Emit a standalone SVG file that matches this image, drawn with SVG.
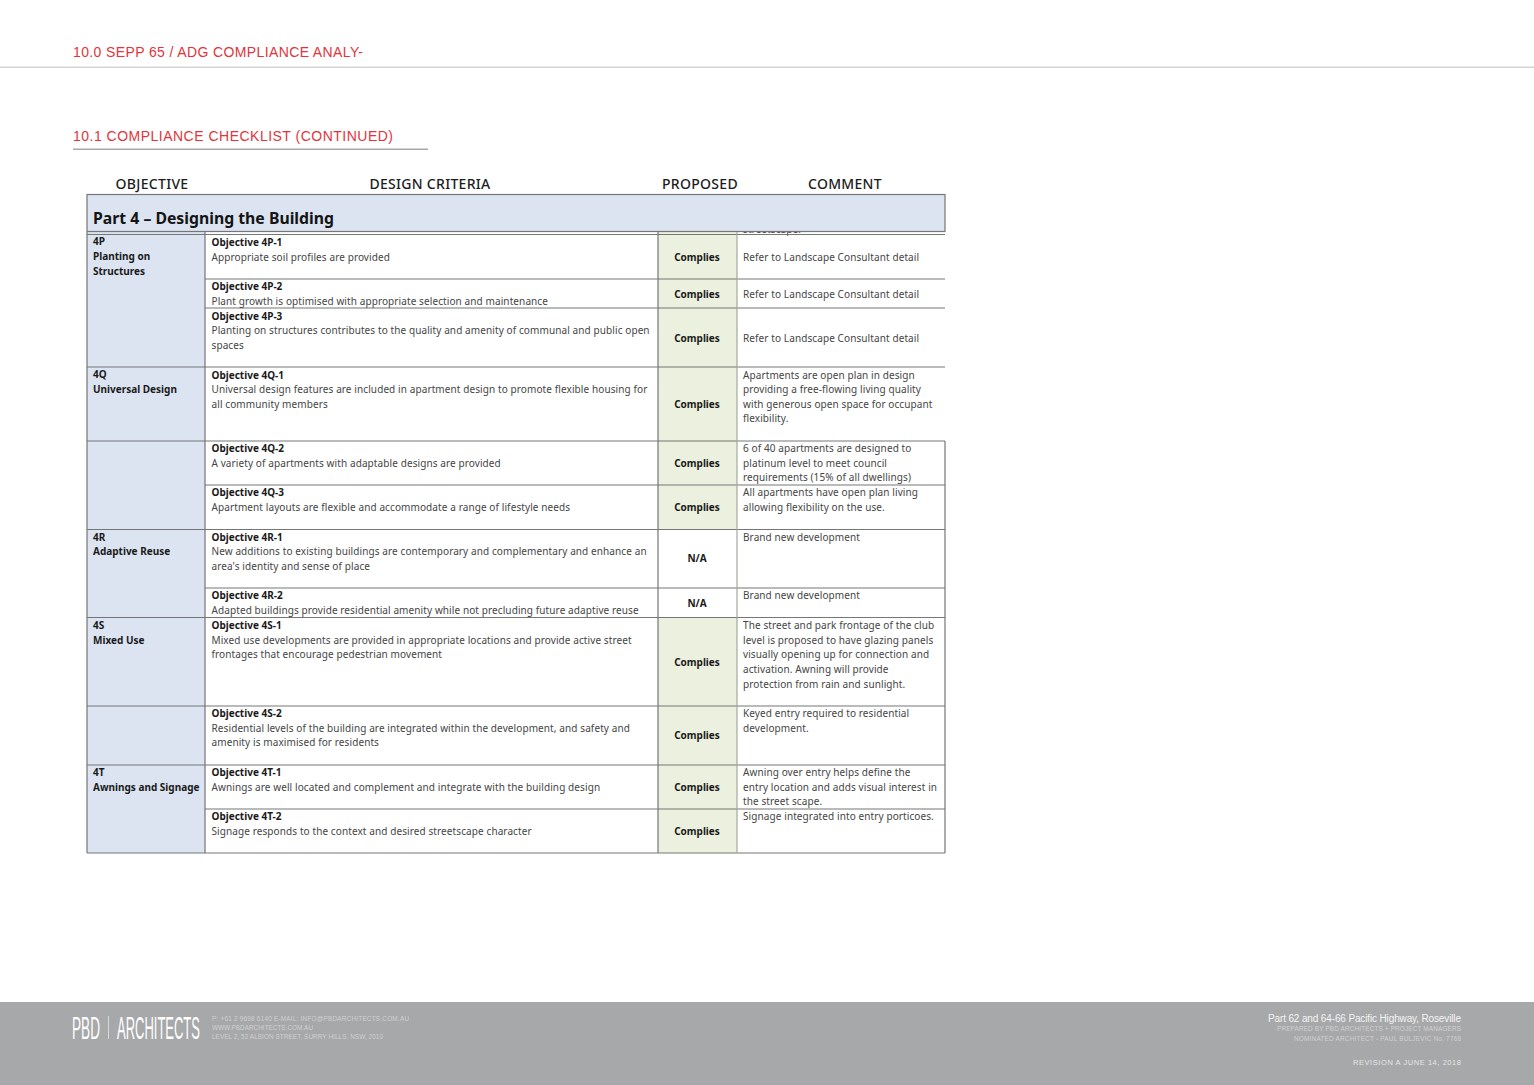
<svg xmlns="http://www.w3.org/2000/svg" width="1534" height="1085" viewBox="0 0 1534 1085">
<style>
text{font-family:"Noto Sans","Open Sans","Liberation Sans",sans-serif;font-size:10px;fill:#454545;letter-spacing:.1px}
.b{font-weight:700;fill:#1a1a1a;letter-spacing:0}
.c{text-anchor:middle}
.h{font-size:14px;fill:#1c1c1c;font-weight:500;letter-spacing:.3px;text-anchor:middle}
.r{font-family:"Liberation Sans",Arial,sans-serif;font-size:14px;fill:#e2343b;letter-spacing:0}
.f{font-family:"Liberation Sans",Arial,sans-serif;font-size:6.400px;fill:#cfd0d1;letter-spacing:0}
.l{stroke:#757676;stroke-width:1.2;fill:none}
.g{font-family:"Liberation Sans",Arial,sans-serif;font-size:16px;fill:#fff;letter-spacing:0}
</style>
<rect width="1534" height="1085" fill="#fff"/>
<text class="r" x="73" y="57" textLength="290" lengthAdjust="spacing">10.0 SEPP 65 / ADG COMPLIANCE ANALY-</text>
<rect x="0" y="66.500" width="1534" height="1.500" fill="#d2d3d3"/>
<text class="r" x="73" y="141" textLength="320" lengthAdjust="spacing">10.1 COMPLIANCE CHECKLIST (CONTINUED)</text>
<rect x="73" y="148.500" width="355" height="1.500" fill="#a8a8a8"/>
<g id="headers">
<text class="h" x="152" y="189">OBJECTIVE</text>
<text class="h" x="430" y="189">DESIGN CRITERIA</text>
<text class="h" x="700" y="189">PROPOSED</text>
<text class="h" x="845" y="189">COMMENT</text>
</g>
<g id="fills">
<rect x="87" y="232" width="118" height="621" fill="#dce4f1"/>
<rect x="658" y="232" width="79" height="298" fill="#ebf0df"/>
<rect x="658" y="617" width="79" height="236" fill="#ebf0df"/>
</g>
<text x="743" y="232.500">streetscape.</text>
<g id="title">
<rect x="87" y="194.500" width="858" height="37" fill="#dce4f1" stroke="#757676" stroke-width="1.200"/>
<text x="93" y="224" style="font-size:16.500px;font-weight:700;fill:#141414;letter-spacing:0" textLength="241" lengthAdjust="spacingAndGlyphs">Part 4 – Designing the Building</text>
</g>
<g id="grid">
<path class="l" d="M87 234.500H945M205 279H945M205 308H945M87 367H945M87 441H945M205 485H945M87 529.500H945M205 588H945M87 617.500H945M87 706H945M87 765H945M205 809H945M87 853H945"/>
<path class="l" d="M87 232V853M205 232V853M658 232V853"/>
<path d="M737 232V853" stroke="#a5a89c" stroke-width="1.200" fill="none"/>
<path class="l" d="M945 441V853"/>
</g>
<g id="row-4P">
<text class="b" x="93" y="245">4P</text><text class="b" x="93" y="260">Planting on</text><text class="b" x="93" y="275">Structures</text>
<text class="b" x="211.500" y="246">Objective 4P-1</text><text x="211.500" y="261">Appropriate soil profiles are provided</text>
<text class="b c" x="697" y="261">Complies</text><text x="743" y="261">Refer to Landscape Consultant detail</text>
<text class="b" x="211.500" y="290">Objective 4P-2</text><text x="211.500" y="305">Plant growth is optimised with appropriate selection and maintenance</text>
<text class="b c" x="697" y="298">Complies</text><text x="743" y="298">Refer to Landscape Consultant detail</text>
<text class="b" x="211.500" y="320">Objective 4P-3</text><text x="211.500" y="334">Planting on structures contributes to the quality and amenity of communal and public open</text><text x="211.500" y="349">spaces</text>
<text class="b c" x="697" y="342">Complies</text><text x="743" y="342">Refer to Landscape Consultant detail</text>
</g>
<g id="row-4Q">
<text class="b" x="93" y="378">4Q</text><text class="b" x="93" y="393">Universal Design</text>
<text class="b" x="211.500" y="379">Objective 4Q-1</text><text x="211.500" y="393">Universal design features are included in apartment design to promote flexible housing for</text><text x="211.500" y="408">all community members</text>
<text class="b c" x="697" y="408">Complies</text>
<text x="743" y="379">Apartments are open plan in design</text><text x="743" y="393">providing a free-flowing living quality</text><text x="743" y="408">with generous open space for occupant</text><text x="743" y="422">flexibility.</text>
<text class="b" x="211.500" y="452">Objective 4Q-2</text><text x="211.500" y="467">A variety of apartments with adaptable designs are provided</text>
<text class="b c" x="697" y="467">Complies</text>
<text x="743" y="452">6 of 40 apartments are designed to</text><text x="743" y="467">platinum level to meet council</text><text x="743" y="481">requirements (15% of all dwellings)</text>
<text class="b" x="211.500" y="496">Objective 4Q-3</text><text x="211.500" y="511">Apartment layouts are flexible and accommodate a range of lifestyle needs</text>
<text class="b c" x="697" y="511">Complies</text>
<text x="743" y="496">All apartments have open plan living</text><text x="743" y="511">allowing flexibility on the use.</text>
</g>
<g id="row-4R">
<text class="b" x="93" y="541">4R</text><text class="b" x="93" y="555">Adaptive Reuse</text>
<text class="b" x="211.500" y="541">Objective 4R-1</text><text x="211.500" y="555">New additions to existing buildings are contemporary and complementary and enhance an</text><text x="211.500" y="570">area's identity and sense of place</text>
<text class="b c" x="697" y="562">N/A</text><text x="743" y="541">Brand new development</text>
<text class="b" x="211.500" y="599">Objective 4R-2</text><text x="211.500" y="614">Adapted buildings provide residential amenity while not precluding future adaptive reuse</text>
<text class="b c" x="697" y="607">N/A</text><text x="743" y="599">Brand new development</text>
</g>
<g id="row-4S">
<text class="b" x="93" y="629">4S</text><text class="b" x="93" y="644">Mixed Use</text>
<text class="b" x="211.500" y="629">Objective 4S-1</text><text x="211.500" y="644">Mixed use developments are provided in appropriate locations and provide active street</text><text x="211.500" y="658">frontages that encourage pedestrian movement</text>
<text class="b c" x="697" y="666">Complies</text>
<text x="743" y="629">The street and park frontage of the club</text><text x="743" y="644">level is proposed to have glazing panels</text><text x="743" y="658">visually opening up for connection and</text><text x="743" y="673">activation. Awning will provide</text><text x="743" y="688">protection from rain and sunlight.</text>
<text class="b" x="211.500" y="717">Objective 4S-2</text><text x="211.500" y="732">Residential levels of the building are integrated within the development, and safety and</text><text x="211.500" y="746">amenity is maximised for residents</text>
<text class="b c" x="697" y="739">Complies</text>
<text x="743" y="717">Keyed entry required to residential</text><text x="743" y="732">development.</text>
</g>
<g id="row-4T">
<text class="b" x="93" y="776">4T</text><text class="b" x="93" y="791">Awnings and Signage</text>
<text class="b" x="211.500" y="776">Objective 4T-1</text><text x="211.500" y="791">Awnings are well located and complement and integrate with the building design</text>
<text class="b c" x="697" y="791">Complies</text>
<text x="743" y="776">Awning over entry helps define the</text><text x="743" y="791">entry location and adds visual interest in</text><text x="743" y="805">the street scape.</text>
<text class="b" x="211.500" y="820">Objective 4T-2</text><text x="211.500" y="835">Signage responds to the context and desired streetscape character</text>
<text class="b c" x="697" y="835">Complies</text><text x="743" y="820">Signage integrated into entry porticoes.</text>
</g>
<g id="footer">
<rect y="1002" width="1534" height="83" fill="#a7a8aa"/>
<text class="g" transform="translate(72 1039) scale(.851 2)">PBD</text>
<rect x="108" y="1016" width="1" height="23" fill="#d8d9da"/>
<text class="g" transform="translate(117 1039) scale(.812 2)">ARCHITECTS</text>
<text class="f" x="212" y="1021" textLength="197" lengthAdjust="spacing">P: +61 2 9698 6140    E-MAIL: INFO@PBDARCHITECTS.COM.AU</text>
<text class="f" x="212" y="1030" textLength="101" lengthAdjust="spacing">WWW.PBDARCHITECTS.COM.AU</text>
<text class="f" x="212" y="1039" textLength="171" lengthAdjust="spacing">LEVEL 2, 52 ALBION STREET, SURRY HILLS, NSW, 2010</text>
<text class="f" x="1268" y="1022" style="font-size:10px;fill:#f4f4f4" textLength="193" lengthAdjust="spacing">Part 62 and 64-66 Pacific Highway, Roseville</text>
<text class="f" x="1277" y="1031" textLength="184" lengthAdjust="spacing">PREPARED BY PBD ARCHITECTS + PROJECT MANAGERS</text>
<text class="f" x="1294" y="1040.500" textLength="167" lengthAdjust="spacing">NOMINATED ARCHITECT - PAUL BULJEVIC   No. 7768</text>
<text class="f" x="1353" y="1065" style="font-size:7.500px;fill:#e6e6e6" textLength="108" lengthAdjust="spacing">REVISION A    JUNE 14, 2018</text>
</g>
</svg>
